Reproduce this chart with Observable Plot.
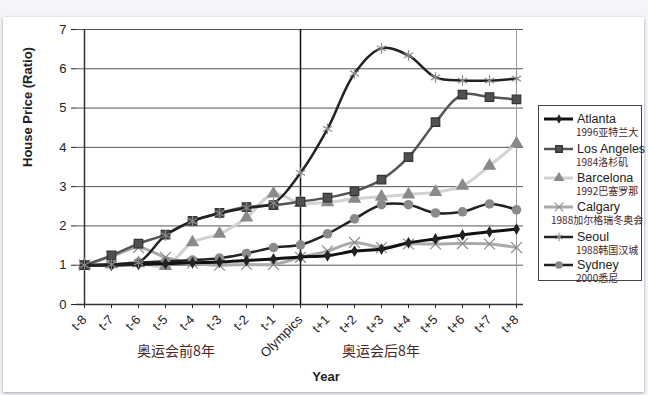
<!DOCTYPE html>
<html><head><meta charset="utf-8">
<script src="https://cdn.jsdelivr.net/npm/d3@7"></script>
<script src="https://cdn.jsdelivr.net/npm/@observablehq/plot@0.6"></script>
<style>
body{margin:0;background:#f3f5f9;width:648px;height:395px;overflow:hidden;position:relative;font-family:"Liberation Sans",Arial,sans-serif}
#panel{position:absolute;left:3px;top:17px;width:641px;height:375px;background:#fff;box-shadow:0 1px 3px rgba(0,0,0,0.35)}
#chart{position:absolute;left:0;top:0}
#legend{position:absolute;left:0;top:0}
</style></head><body>
<div id="panel"></div><div id="chart"></div><svg id="legend" width="648" height="395"></svg>
<script>
const categories = ["t-8","t-7","t-6","t-5","t-4","t-3","t-2","t-1","Olympics","t+1","t+2","t+3","t+4","t+5","t+6","t+7","t+8"];
const yTicks = [0,1,2,3,4,5,6,7];
const atlanta    = [1.00,1.00,1.02,1.04,1.06,1.08,1.12,1.16,1.21,1.24,1.36,1.41,1.57,1.67,1.77,1.85,1.92];
const losAngeles = [1.00,1.25,1.55,1.78,2.13,2.33,2.48,2.53,2.62,2.72,2.88,3.18,3.75,4.64,5.34,5.28,5.22];
const barcelona  = [1.00,1.02,1.05,0.98,1.58,1.80,2.21,2.82,2.58,2.60,2.69,2.74,2.80,2.86,3.02,3.53,4.10];
const calgary    = [1.00,1.22,1.45,1.20,1.05,1.00,1.02,1.02,1.20,1.36,1.58,1.45,1.54,1.54,1.55,1.54,1.45];
const seoul      = [1.00,1.02,1.07,1.76,2.12,2.32,2.46,2.58,3.35,4.47,5.88,6.52,6.34,5.78,5.70,5.70,5.75];
const sydney     = [1.00,1.02,1.07,1.10,1.13,1.18,1.30,1.45,1.52,1.80,2.18,2.54,2.54,2.33,2.36,2.56,2.41];
const seriesNames = ["Atlanta","Los Angeles","Barcelona","Calgary","Seoul","Sydney"];
const seriesSubs  = ["1996亚特兰大","1984洛杉矶","1992巴塞罗那","1988加尔格瑞冬奥会","1988韩国汉城","2000悉尼"];
const xGroupLabels = ["奥运会前8年","奥运会后8年"];

const styles = {
  "Atlanta":     {values: atlanta,    line:"#111", lw:3,   symbol:"diamond",  fill:"#222", stroke:"none", r:3.6},
  "Los Angeles": {values: losAngeles, line:"#555", lw:2.5, symbol:"square",   fill:"#505050", stroke:"#333", r:4.8},
  "Barcelona":   {values: barcelona,  line:"#d2d2d2", lw:3, symbol:"triangle", fill:"#8a8a8a", stroke:"none", r:5},
  "Calgary":     {values: calgary,    line:"#aaaaaa", lw:3, symbol:"times",   fill:"none", stroke:"#8c8c8c", r:5},
  "Seoul":       {values: seoul,      line:"#222", lw:2.5, symbol:"asterisk", fill:"none", stroke:"#8a8a8a", r:5},
  "Sydney":      {values: sydney,     line:"#222", lw:2.5, symbol:"circle",   fill:"#8a8a8a", stroke:"none", r:4.8}
};
const drawOrder = ["Barcelona","Calgary","Sydney","Los Angeles","Atlanta","Seoul"];

const seriesMarks = drawOrder.flatMap(name => {
  const s = styles[name];
  const data = categories.map((c,i) => ({x:c, y:s.values[i]}));
  return [
    Plot.line(data, {x:"x", y:"y", stroke:s.line, strokeWidth:s.lw, curve:"catmull-rom"}),
    Plot.dot(data, {x:"x", y:"y", symbol:()=>s.symbol, r:s.r, fill:s.fill, stroke:s.stroke, strokeWidth:1.2})
  ];
});

const chart = Plot.plot({
  width:648, height:395,
  marginLeft:76, marginRight:125, marginTop:29, marginBottom:91,
  style:{background:"transparent", fontFamily:"'Liberation Sans', Arial, sans-serif", fontSize:"12px", color:"#222"},
  x:{type:"point", domain:categories, padding:0},
  y:{domain:[0,7]},
  marks:[
    Plot.ruleY(yTicks, {stroke:"#555", strokeWidth:1}),
    Plot.ruleX(["t+8"], {stroke:"#999", strokeWidth:1}),
    Plot.ruleX(["t-8"], {stroke:"#333", strokeWidth:1.5}),
    Plot.ruleY([0], {stroke:"#333", strokeWidth:1.5}),
    Plot.ruleX(["Olympics"], {stroke:"#111", strokeWidth:1.5}),
    ...seriesMarks,
    Plot.axisY({ticks:yTicks, tickSize:5, tickPadding:5, fontSize:13, label:null, tickFormat:d=>d}),
    Plot.axisX({tickRotate:-45, tickSize:4, tickPadding:9, fontSize:13, label:null}),
    Plot.text(["House Price (Ratio)"], {frameAnchor:"left", dx:-49, rotate:-90, fontWeight:"bold", fontSize:13, fill:"#222"}),
    Plot.text(["Year"], {frameAnchor:"bottom", dx:26, dy:76, fontWeight:"bold", fontSize:13, fill:"#222"}),
    Plot.text([xGroupLabels[0]], {frameAnchor:"bottom", dx:-124, dy:51, fontSize:14, fill:"#4a2626", fontFamily:"'Noto Sans CJK SC'"}),
    Plot.text([xGroupLabels[1]], {frameAnchor:"bottom", dx:81, dy:51, fontSize:14, fill:"#4a2626", fontFamily:"'Noto Sans CJK SC'"})
  ]
});
document.getElementById("chart").appendChild(chart);

// Legend
const lg = d3.select("#legend");
lg.append("rect").attr("x",538.5).attr("y",105.5).attr("width",103).attr("height",175)
  .attr("fill","#fff").attr("stroke","#444").attr("stroke-width",1);
const symMap = {diamond:d3.symbolDiamond, square:d3.symbolSquare, triangle:d3.symbolTriangle, times:d3.symbolTimes, asterisk:d3.symbolAsterisk, circle:d3.symbolCircle};
const rowY = [119,149,178,207,237,265];
seriesNames.forEach((name,i) => {
  const s = styles[name];
  const y = rowY[i];
  lg.append("line").attr("x1",544).attr("x2",573).attr("y1",y).attr("y2",y)
    .attr("stroke",s.line).attr("stroke-width",s.lw);
  lg.append("path").attr("transform",`translate(559,${y})`)
    .attr("d", d3.symbol(symMap[s.symbol], Math.PI*(s.r*0.8)**2)())
    .attr("fill",s.fill).attr("stroke",s.stroke==="none"?null:s.stroke).attr("stroke-width",1.1);
  lg.append("text").attr("x",577).attr("y",y+3.5).text(name)
    .attr("font-family","'Liberation Sans', Arial, sans-serif").attr("font-size",12.5).attr("fill","#222");
  lg.append("text").attr("x", name==="Calgary"?551:576).attr("y",y+17).text(seriesSubs[i])
    .attr("font-family","'Noto Sans CJK SC'").attr("font-size",10).attr("fill","#4a2626");
});
</script></body></html>
